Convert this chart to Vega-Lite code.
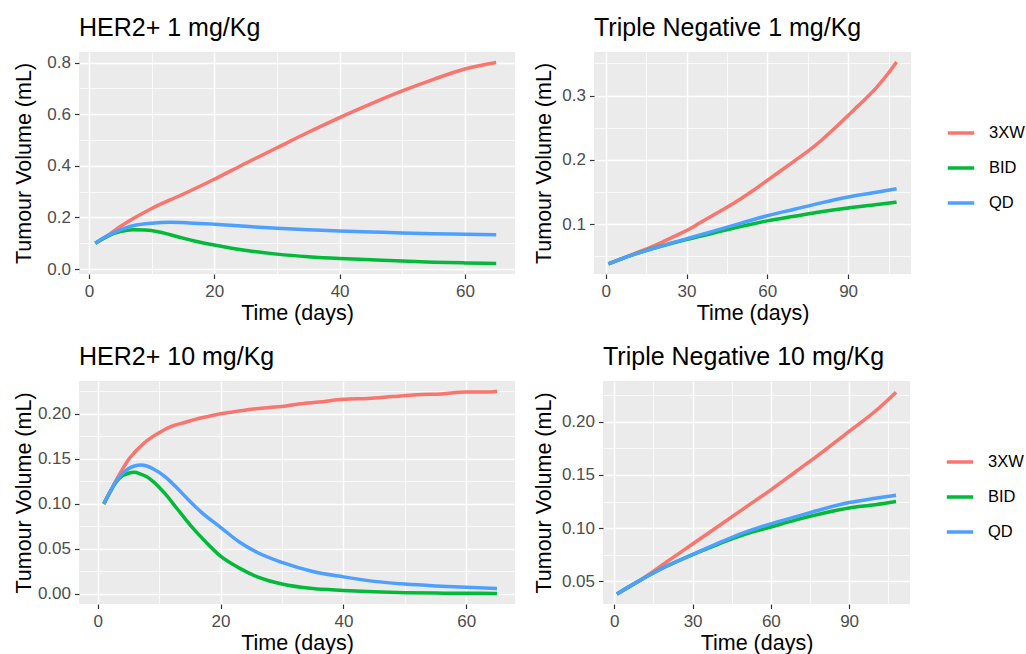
{
"$schema": "https://vega.github.io/schema/vega-lite/v6.json",
"padding": {"left": 12, "top": 16, "right": 0, "bottom": 0},
"background": "white",
"config": {
  "font": "Liberation Sans",
  "view": {"fill": "#EBEBEB", "stroke": null},
  "axis": {"domain": false, "gridColor": "white", "tickColor": "#333333", "tickSize": 4.5, "tickWidth": 1.2, "labelColor": "#4D4D4D", "labelFontSize": 17, "labelFont": "Liberation Sans", "labelPadding": 4, "titleFontSize": 21.5, "titleFontWeight": "normal", "titleColor": "black", "titleFont": "Liberation Sans", "titlePadding": 6},
  "axisX": {"labelPadding": 5, "titlePadding": 3},
  "title": {"anchor": "start", "frame": "group", "fontSize": 25, "fontWeight": "normal", "font": "Liberation Sans", "color": "black", "offset": 11}
},
"datasets": {
  "her2_1": [
    {"t":1,"v":0.10,"s":"3XW"},{"t":3,"v":0.13,"s":"3XW"},{"t":5,"v":0.165,"s":"3XW"},{"t":7,"v":0.195,"s":"3XW"},{"t":10,"v":0.235,"s":"3XW"},{"t":15,"v":0.29,"s":"3XW"},{"t":20,"v":0.348,"s":"3XW"},{"t":25,"v":0.41,"s":"3XW"},{"t":30,"v":0.47,"s":"3XW"},{"t":35,"v":0.53,"s":"3XW"},{"t":40,"v":0.587,"s":"3XW"},{"t":45,"v":0.64,"s":"3XW"},{"t":50,"v":0.69,"s":"3XW"},{"t":55,"v":0.735,"s":"3XW"},{"t":60,"v":0.775,"s":"3XW"},{"t":65,"v":0.80,"s":"3XW"},
    {"t":1,"v":0.10,"s":"BID"},{"t":3,"v":0.128,"s":"BID"},{"t":5,"v":0.145,"s":"BID"},{"t":7,"v":0.152,"s":"BID"},{"t":9,"v":0.151,"s":"BID"},{"t":11,"v":0.145,"s":"BID"},{"t":13,"v":0.133,"s":"BID"},{"t":15,"v":0.12,"s":"BID"},{"t":17,"v":0.108,"s":"BID"},{"t":20,"v":0.093,"s":"BID"},{"t":23,"v":0.080,"s":"BID"},{"t":26,"v":0.069,"s":"BID"},{"t":30,"v":0.058,"s":"BID"},{"t":35,"v":0.048,"s":"BID"},{"t":40,"v":0.041,"s":"BID"},{"t":45,"v":0.036,"s":"BID"},{"t":50,"v":0.031,"s":"BID"},{"t":55,"v":0.027,"s":"BID"},{"t":60,"v":0.024,"s":"BID"},{"t":65,"v":0.022,"s":"BID"},
    {"t":1,"v":0.10,"s":"QD"},{"t":3,"v":0.13,"s":"QD"},{"t":5,"v":0.152,"s":"QD"},{"t":7,"v":0.168,"s":"QD"},{"t":10,"v":0.178,"s":"QD"},{"t":13,"v":0.181,"s":"QD"},{"t":16,"v":0.179,"s":"QD"},{"t":20,"v":0.174,"s":"QD"},{"t":25,"v":0.166,"s":"QD"},{"t":30,"v":0.158,"s":"QD"},{"t":35,"v":0.152,"s":"QD"},{"t":40,"v":0.148,"s":"QD"},{"t":45,"v":0.144,"s":"QD"},{"t":50,"v":0.140,"s":"QD"},{"t":55,"v":0.137,"s":"QD"},{"t":60,"v":0.135,"s":"QD"},{"t":65,"v":0.133,"s":"QD"}
  ],
  "tn_1": [
    {"t":1,"v":0.038,"s":"3XW"},{"t":10,"v":0.053,"s":"3XW"},{"t":15,"v":0.061,"s":"3XW"},{"t":20,"v":0.07,"s":"3XW"},{"t":25,"v":0.08,"s":"3XW"},{"t":30,"v":0.09,"s":"3XW"},{"t":35,"v":0.102,"s":"3XW"},{"t":40,"v":0.114,"s":"3XW"},{"t":45,"v":0.126,"s":"3XW"},{"t":50,"v":0.139,"s":"3XW"},{"t":55,"v":0.153,"s":"3XW"},{"t":60,"v":0.168,"s":"3XW"},{"t":65,"v":0.183,"s":"3XW"},{"t":70,"v":0.198,"s":"3XW"},{"t":75,"v":0.213,"s":"3XW"},{"t":80,"v":0.230,"s":"3XW"},{"t":85,"v":0.249,"s":"3XW"},{"t":90,"v":0.269,"s":"3XW"},{"t":95,"v":0.289,"s":"3XW"},{"t":100,"v":0.31,"s":"3XW"},{"t":105,"v":0.335,"s":"3XW"},{"t":108,"v":0.352,"s":"3XW"},
    {"t":1,"v":0.038,"s":"BID"},{"t":10,"v":0.052,"s":"BID"},{"t":20,"v":0.065,"s":"BID"},{"t":30,"v":0.076,"s":"BID"},{"t":40,"v":0.086,"s":"BID"},{"t":50,"v":0.096,"s":"BID"},{"t":60,"v":0.105,"s":"BID"},{"t":70,"v":0.112,"s":"BID"},{"t":80,"v":0.119,"s":"BID"},{"t":90,"v":0.125,"s":"BID"},{"t":100,"v":0.130,"s":"BID"},{"t":108,"v":0.134,"s":"BID"},
    {"t":1,"v":0.038,"s":"QD"},{"t":10,"v":0.052,"s":"QD"},{"t":20,"v":0.065,"s":"QD"},{"t":30,"v":0.077,"s":"QD"},{"t":40,"v":0.089,"s":"QD"},{"t":50,"v":0.101,"s":"QD"},{"t":60,"v":0.113,"s":"QD"},{"t":70,"v":0.123,"s":"QD"},{"t":80,"v":0.133,"s":"QD"},{"t":90,"v":0.142,"s":"QD"},{"t":100,"v":0.149,"s":"QD"},{"t":108,"v":0.155,"s":"QD"}
  ],
  "her2_10": [
    {"t":1,"v":0.1,"s":"3XW"},{"t":2,"v":0.113,"s":"3XW"},{"t":3,"v":0.126,"s":"3XW"},{"t":4,"v":0.138,"s":"3XW"},{"t":5,"v":0.149,"s":"3XW"},{"t":6,"v":0.157,"s":"3XW"},{"t":7,"v":0.164,"s":"3XW"},{"t":8,"v":0.17,"s":"3XW"},{"t":10,"v":0.179,"s":"3XW"},{"t":12,"v":0.186,"s":"3XW"},{"t":14,"v":0.19,"s":"3XW"},{"t":16,"v":0.194,"s":"3XW"},{"t":18,"v":0.197,"s":"3XW"},{"t":20,"v":0.2,"s":"3XW"},{"t":22,"v":0.202,"s":"3XW"},{"t":25,"v":0.205,"s":"3XW"},{"t":28,"v":0.207,"s":"3XW"},{"t":30,"v":0.208,"s":"3XW"},{"t":33,"v":0.211,"s":"3XW"},{"t":36,"v":0.213,"s":"3XW"},{"t":40,"v":0.216,"s":"3XW"},{"t":44,"v":0.217,"s":"3XW"},{"t":48,"v":0.219,"s":"3XW"},{"t":52,"v":0.221,"s":"3XW"},{"t":56,"v":0.222,"s":"3XW"},{"t":60,"v":0.224,"s":"3XW"},{"t":63,"v":0.224,"s":"3XW"},{"t":65,"v":0.225,"s":"3XW"},
    {"t":1,"v":0.1,"s":"BID"},{"t":2,"v":0.113,"s":"BID"},{"t":3,"v":0.124,"s":"BID"},{"t":4,"v":0.131,"s":"BID"},{"t":5,"v":0.134,"s":"BID"},{"t":6,"v":0.135,"s":"BID"},{"t":7,"v":0.133,"s":"BID"},{"t":8,"v":0.13,"s":"BID"},{"t":9,"v":0.125,"s":"BID"},{"t":11,"v":0.111,"s":"BID"},{"t":13,"v":0.094,"s":"BID"},{"t":15,"v":0.077,"s":"BID"},{"t":17,"v":0.062,"s":"BID"},{"t":20,"v":0.042,"s":"BID"},{"t":23,"v":0.029,"s":"BID"},{"t":26,"v":0.019,"s":"BID"},{"t":30,"v":0.011,"s":"BID"},{"t":35,"v":0.006,"s":"BID"},{"t":40,"v":0.004,"s":"BID"},{"t":45,"v":0.0025,"s":"BID"},{"t":50,"v":0.0015,"s":"BID"},{"t":55,"v":0.001,"s":"BID"},{"t":60,"v":0.0008,"s":"BID"},{"t":65,"v":0.0006,"s":"BID"},
    {"t":1,"v":0.1,"s":"QD"},{"t":2,"v":0.113,"s":"QD"},{"t":3,"v":0.125,"s":"QD"},{"t":4,"v":0.133,"s":"QD"},{"t":5,"v":0.139,"s":"QD"},{"t":6,"v":0.142,"s":"QD"},{"t":7,"v":0.143,"s":"QD"},{"t":8,"v":0.142,"s":"QD"},{"t":9,"v":0.139,"s":"QD"},{"t":11,"v":0.13,"s":"QD"},{"t":13,"v":0.117,"s":"QD"},{"t":15,"v":0.103,"s":"QD"},{"t":17,"v":0.09,"s":"QD"},{"t":20,"v":0.074,"s":"QD"},{"t":23,"v":0.058,"s":"QD"},{"t":26,"v":0.046,"s":"QD"},{"t":30,"v":0.035,"s":"QD"},{"t":35,"v":0.025,"s":"QD"},{"t":40,"v":0.019,"s":"QD"},{"t":45,"v":0.014,"s":"QD"},{"t":50,"v":0.011,"s":"QD"},{"t":55,"v":0.009,"s":"QD"},{"t":60,"v":0.0075,"s":"QD"},{"t":65,"v":0.006,"s":"QD"}
  ],
  "tn_10": [
    {"t":1,"v":0.038,"s":"3XW"},{"t":10,"v":0.051,"s":"3XW"},{"t":20,"v":0.068,"s":"3XW"},{"t":30,"v":0.085,"s":"3XW"},{"t":40,"v":0.102,"s":"3XW"},{"t":50,"v":0.119,"s":"3XW"},{"t":60,"v":0.136,"s":"3XW"},{"t":70,"v":0.154,"s":"3XW"},{"t":80,"v":0.172,"s":"3XW"},{"t":90,"v":0.191,"s":"3XW"},{"t":100,"v":0.21,"s":"3XW"},{"t":108,"v":0.228,"s":"3XW"},
    {"t":1,"v":0.038,"s":"BID"},{"t":10,"v":0.051,"s":"BID"},{"t":20,"v":0.064,"s":"BID"},{"t":30,"v":0.075,"s":"BID"},{"t":40,"v":0.085,"s":"BID"},{"t":50,"v":0.094,"s":"BID"},{"t":60,"v":0.101,"s":"BID"},{"t":70,"v":0.108,"s":"BID"},{"t":80,"v":0.114,"s":"BID"},{"t":90,"v":0.119,"s":"BID"},{"t":100,"v":0.122,"s":"BID"},{"t":108,"v":0.125,"s":"BID"},
    {"t":1,"v":0.038,"s":"QD"},{"t":10,"v":0.051,"s":"QD"},{"t":20,"v":0.064,"s":"QD"},{"t":30,"v":0.075,"s":"QD"},{"t":40,"v":0.086,"s":"QD"},{"t":50,"v":0.096,"s":"QD"},{"t":60,"v":0.104,"s":"QD"},{"t":70,"v":0.111,"s":"QD"},{"t":80,"v":0.118,"s":"QD"},{"t":90,"v":0.124,"s":"QD"},{"t":100,"v":0.128,"s":"QD"},{"t":108,"v":0.131,"s":"QD"}
  ]
},
"spacing": 21,
"resolve": {"scale": {"color": "independent"}, "legend": {"color": "independent"}},
"vconcat": [
  {
    "spacing": 18,
    "resolve": {"scale": {"color": "independent"}, "legend": {"color": "independent"}},
    "hconcat": [
      {
        "width": 436, "height": 222,
        "title": "HER2+ 1 mg/Kg",
        "data": {"name": "her2_1"},
        "mark": {"type": "line", "strokeWidth": 3.5, "interpolate": "monotone"},
        "encoding": {
          "x": {"field": "t", "type": "quantitative", "title": "Time (days)",
            "scale": {"domain": [-1.6, 68.0], "nice": false, "zero": false},
            "axis": {"values": [0,10,20,30,40,50,60], "format": "d",
              "labelExpr": "datum.value % 20 === 0 ? datum.label : ''",
              "gridWidth": {"condition": {"test": "datum.value % 20 === 0", "value": 1.5}, "value": 0.75},
              "tickColor": {"condition": {"test": "datum.value % 20 === 0", "value": "#333333"}, "value": "rgba(0,0,0,0)"}}},
          "y": {"field": "v", "type": "quantitative", "title": "Tumour Volume (mL)",
            "scale": {"domain": [-0.019, 0.841], "nice": false, "zero": false},
            "axis": {"values": [0,0.1,0.2,0.3,0.4,0.5,0.6,0.7,0.8], "format": ".1f", "titleX": -44,
              "labelExpr": "abs(datum.value*5 - round(datum.value*5)) < 0.000001 ? datum.label : ''",
              "gridWidth": {"condition": {"test": "abs(datum.value*5 - round(datum.value*5)) < 0.000001", "value": 1.5}, "value": 0.75},
              "tickColor": {"condition": {"test": "abs(datum.value*5 - round(datum.value*5)) < 0.000001", "value": "#333333"}, "value": "rgba(0,0,0,0)"}}},
          "color": {"field": "s", "type": "nominal",
            "scale": {"domain": ["3XW","BID","QD"], "range": ["#F8766D","#00BA38","#4DA0FF"]},
            "legend": null}
        }
      },
      {
        "width": 317, "height": 222,
        "title": "Triple Negative 1 mg/Kg",
        "data": {"name": "tn_1"},
        "mark": {"type": "line", "strokeWidth": 3.5, "interpolate": "monotone"},
        "encoding": {
          "x": {"field": "t", "type": "quantitative", "title": "Time (days)",
            "scale": {"domain": [-4.35, 113.35], "nice": false, "zero": false},
            "axis": {"values": [0,15,30,45,60,75,90,105], "format": "d",
              "labelExpr": "datum.value % 30 === 0 ? datum.label : ''",
              "gridWidth": {"condition": {"test": "datum.value % 30 === 0", "value": 1.5}, "value": 0.75},
              "tickColor": {"condition": {"test": "datum.value % 30 === 0", "value": "#333333"}, "value": "rgba(0,0,0,0)"}}},
          "y": {"field": "v", "type": "quantitative", "title": "Tumour Volume (mL)",
            "scale": {"domain": [0.0223, 0.3677], "nice": false, "zero": false},
            "axis": {"values": [0.05,0.1,0.15,0.2,0.25,0.3,0.35], "format": ".1f",
              "labelExpr": "abs(datum.value*10 - round(datum.value*10)) < 0.000001 ? datum.label : ''",
              "gridWidth": {"condition": {"test": "abs(datum.value*10 - round(datum.value*10)) < 0.000001", "value": 1.5}, "value": 0.75},
              "tickColor": {"condition": {"test": "abs(datum.value*10 - round(datum.value*10)) < 0.000001", "value": "#333333"}, "value": "rgba(0,0,0,0)"}}},
          "color": {"field": "s", "type": "nominal",
            "scale": {"domain": ["3XW","BID","QD"], "range": ["#F8766D","#00BA38","#4DA0FF"]},
            "legend": {"title": null, "orient": "none", "legendX": 352, "legendY": 66, "symbolType": "stroke", "symbolStrokeWidth": 3.5, "symbolSize": 700, "labelFontSize": 16.5, "labelOffset": 13, "rowPadding": 11, "padding": 0, "labelColor": "black", "labelFont": "Liberation Sans"}}
        }
      }
    ]
  },
  {
    "spacing": 18,
    "resolve": {"scale": {"color": "independent"}, "legend": {"color": "independent"}},
    "hconcat": [
      {
        "width": 436, "height": 223,
        "title": "HER2+ 10 mg/Kg",
        "data": {"name": "her2_10"},
        "mark": {"type": "line", "strokeWidth": 3.5, "interpolate": "monotone"},
        "encoding": {
          "x": {"field": "t", "type": "quantitative", "title": "Time (days)",
            "scale": {"domain": [-3.04, 67.93], "nice": false, "zero": false},
            "axis": {"values": [0,10,20,30,40,50,60], "format": "d",
              "labelExpr": "datum.value % 20 === 0 ? datum.label : ''",
              "gridWidth": {"condition": {"test": "datum.value % 20 === 0", "value": 1.5}, "value": 0.75},
              "tickColor": {"condition": {"test": "datum.value % 20 === 0", "value": "#333333"}, "value": "rgba(0,0,0,0)"}}},
          "y": {"field": "v", "type": "quantitative", "title": "Tumour Volume (mL)",
            "scale": {"domain": [-0.0111, 0.2363], "nice": false, "zero": false},
            "axis": {"values": [0,0.025,0.05,0.075,0.1,0.125,0.15,0.175,0.2,0.225], "format": ".2f", "titleX": -44,
              "labelExpr": "abs(datum.value*20 - round(datum.value*20)) < 0.000001 ? datum.label : ''",
              "gridWidth": {"condition": {"test": "abs(datum.value*20 - round(datum.value*20)) < 0.000001", "value": 1.5}, "value": 0.75},
              "tickColor": {"condition": {"test": "abs(datum.value*20 - round(datum.value*20)) < 0.000001", "value": "#333333"}, "value": "rgba(0,0,0,0)"}}},
          "color": {"field": "s", "type": "nominal",
            "scale": {"domain": ["3XW","BID","QD"], "range": ["#F8766D","#00BA38","#4DA0FF"]},
            "legend": null}
        }
      },
      {
        "width": 307, "height": 223,
        "title": "Triple Negative 10 mg/Kg",
        "data": {"name": "tn_10"},
        "mark": {"type": "line", "strokeWidth": 3.5, "interpolate": "monotone"},
        "encoding": {
          "x": {"field": "t", "type": "quantitative", "title": "Time (days)",
            "scale": {"domain": [-4.35, 113.35], "nice": false, "zero": false},
            "axis": {"values": [0,15,30,45,60,75,90,105], "format": "d",
              "labelExpr": "datum.value % 30 === 0 ? datum.label : ''",
              "gridWidth": {"condition": {"test": "datum.value % 30 === 0", "value": 1.5}, "value": 0.75},
              "tickColor": {"condition": {"test": "datum.value % 30 === 0", "value": "#333333"}, "value": "rgba(0,0,0,0)"}}},
          "y": {"field": "v", "type": "quantitative", "title": "Tumour Volume (mL)",
            "scale": {"domain": [0.0285, 0.2385], "nice": false, "zero": false},
            "axis": {"values": [0.05,0.075,0.1,0.125,0.15,0.175,0.2,0.225], "format": ".2f",
              "labelExpr": "abs(datum.value*20 - round(datum.value*20)) < 0.000001 ? datum.label : ''",
              "gridWidth": {"condition": {"test": "abs(datum.value*20 - round(datum.value*20)) < 0.000001", "value": 1.5}, "value": 0.75},
              "tickColor": {"condition": {"test": "abs(datum.value*20 - round(datum.value*20)) < 0.000001", "value": "#333333"}, "value": "rgba(0,0,0,0)"}}},
          "color": {"field": "s", "type": "nominal",
            "scale": {"domain": ["3XW","BID","QD"], "range": ["#F8766D","#00BA38","#4DA0FF"]},
            "legend": {"title": null, "orient": "none", "legendX": 342, "legendY": 66, "symbolType": "stroke", "symbolStrokeWidth": 3.5, "symbolSize": 700, "labelFontSize": 16.5, "labelOffset": 13, "rowPadding": 11, "padding": 0, "labelColor": "black", "labelFont": "Liberation Sans"}}
        }
      }
    ]
  }
]
}
